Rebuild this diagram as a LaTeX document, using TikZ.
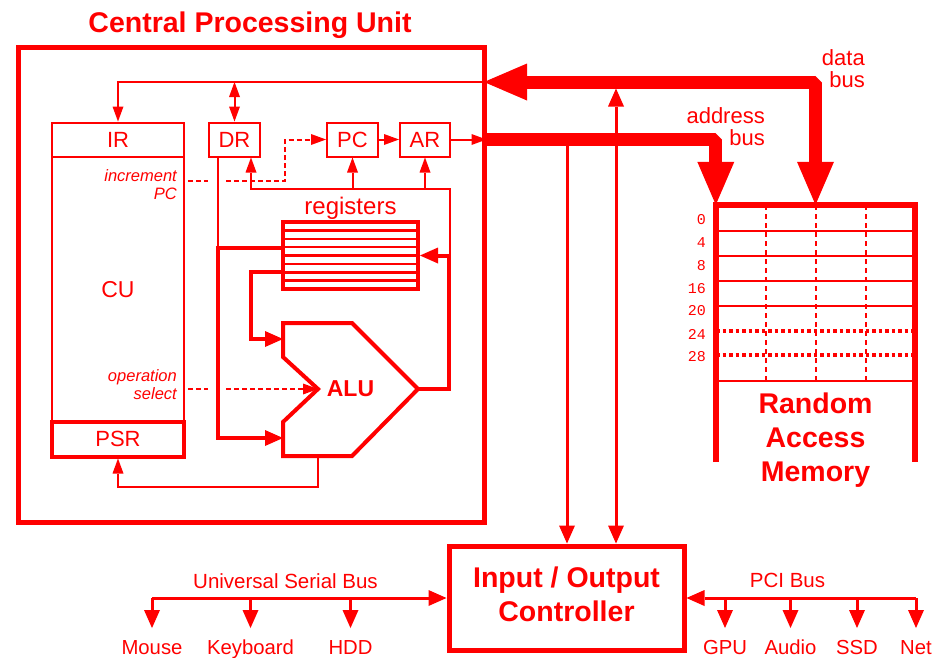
\documentclass[tikz,border=0pt]{standalone}
\usepackage{fontspec}
\setmainfont{Liberation Sans}
\setmonofont{Liberation Mono}
\usetikzlibrary{arrows.meta}
\begin{document}
\begin{tikzpicture}[x=1pt,y=-1pt,color=red,
  boxlbl/.style={draw, line width=2pt, inner sep=0pt, font=\fontsize{22}{26}\selectfont},
  thinln/.style={draw, line width=2pt},
  tarr/.style={-{Triangle[length=15pt,width=11pt,line width=0pt]}},
  tarrs/.style={{Triangle[length=15pt,width=11pt,line width=0pt]}-{Triangle[length=15pt,width=11pt,line width=0pt]}},
  medln/.style={draw, line width=3pt},
  marr/.style={-{Triangle[length=18pt,width=16pt,line width=0pt]}},
  marrs/.style={{Triangle[length=18pt,width=16pt,line width=0pt]}-{Triangle[length=18pt,width=16pt,line width=0pt]}},
  thickln/.style={draw, line width=4pt},
  busln/.style={draw, line width=13pt, line join=bevel},
  barr/.style={-{Triangle[length=43pt,width=37pt,line width=0pt]}},
  barrs/.style={{Triangle[length=43pt,width=37pt,line width=0pt]}-{Triangle[length=43pt,width=37pt,line width=0pt]}},
  ctrlln/.style={draw, line width=2pt, dash pattern=on 5pt off 3pt},
  dev/.style={anchor=north, inner xsep=0pt, inner ysep=12pt, font=\fontsize{20.3}{24}\selectfont},
  ital/.style={align=right, anchor=north east, inner sep=0pt, font=\itshape\fontsize{16.5}{18}\selectfont},
  bigbold/.style={font=\bfseries\fontsize{28.5}{34}\selectfont, align=center, inner sep=0pt},
  buslbl/.style={align=right, anchor=north east, inner sep=0pt, font=\fontsize{22}{22}\selectfont},
]
\useasboundingbox (0,0) rectangle (932,657);

% ---------------- CPU ----------------
\node[draw, line width=5pt, minimum width=466pt, minimum height=475pt, inner sep=0pt] (cpu) at (251,284.5) {};
\node[font=\bfseries\fontsize{28.5}{32}\selectfont, anchor=base, inner sep=0pt] (title) at (250,32) {Central Processing Unit};

\node[boxlbl, minimum width=132pt, minimum height=334pt, font=\fontsize{23}{26}\selectfont] (cu) at (118,289.5) {CU};
\node[boxlbl, fill=white, minimum width=132pt, minimum height=34pt] (ir) at (118,139.5) {IR};
\node[boxlbl, fill=white, line width=4pt, minimum width=132pt, minimum height=35pt] (psr) at (118,439) {PSR};
\node[boxlbl, minimum width=51pt, minimum height=34pt] (dr) at (234.5,139.5) {DR};
\node[boxlbl, minimum width=51pt, minimum height=34pt] (pc) at (352.5,139.5) {PC};
\node[boxlbl, minimum width=50pt, minimum height=34pt] (ar) at (425,139.5) {AR};

\node[ital] (incpc) at (177,169.2) {increment\\PC};
\node[ital] (opsel) at (177,369.2) {operation\\select};

% registers
\node[draw, line width=4pt, minimum width=135pt, minimum height=67pt, inner sep=0pt] (reg) at (350.5,255.5) {};
\foreach \k in {1,...,7} \draw[line width=2.5pt] (283,222+8.375*\k) -- (418,222+8.375*\k);
\node[anchor=base, inner sep=0pt, font=\fontsize{24}{26}\selectfont] (reglbl) at (350.5,214) {registers};

% ALU
\draw[line width=4pt, line join=miter] (283,323) -- (352,323) -- (418,389) -- (352,456) -- (283,456) -- (283,422) -- (318,389) -- (283,357) -- cycle;
\node[font=\bfseries\fontsize{23}{26}\selectfont, inner sep=0pt] (alu) at (350.5,389) {ALU};
\coordinate (aluin1) at (283,339);
\coordinate (aluin2) at (283,438);
\coordinate (aluop) at (318,389);
\coordinate (aluout) at (418,389);
\coordinate (alubot) at (318,456);

% internal connectors
\coordinate (dbin) at (484,82);
\coordinate (ib) at (450,189);
\coordinate (j1) at (218,248);
\coordinate (rp1) at (283,248);
\coordinate (rp2) at (283,272);

\draw[thinln, tarr] (dbin) -| (ir.north);
\draw[thinln, tarrs] (dr.north |- dbin) -- (dr.north);
\draw[thinln, tarr] (pc) -- (ar);
\draw[thinln, tarr] (ar) -- (ar -| cpu.east);
\draw[thinln, tarr] (reg.east -| ib) -- (ib) -| ([xshift=16.5pt]dr.south);
\draw[thinln, tarr] (pc.south |- ib) -- (pc.south);
\draw[thinln, tarr] (ar.south |- ib) -- (ar.south);
\draw[thinln] ([xshift=-16.5pt]dr.south) -- (j1);
\draw[thickln, marr] (rp1) -- (j1) |- (aluin2);
\draw[thickln, marr] (rp2) -- ++(-32,0) |- (aluin1);
\draw[thickln, marr] (aluout) -- ++(31,0) |- (reg.east);
\draw[thinln, tarr] (alubot) -- ++(0,31) -| (psr.south);

\draw[ctrlln] (188,181) -- (208,181);
\draw[ctrlln, tarr] (226,181) -- (285,181) |- (pc.west);
\draw[ctrlln] (188,389) -- (208,389);
\draw[ctrlln, tarr] (226,389) -- (aluop);

% ---------------- RAM ----------------
\node[minimum width=199pt, minimum height=257pt, inner sep=0pt] (ram) at (815.5,333.5) {};
\foreach \y in {231,256,281,306,381} \draw[line width=2pt] (716,\y) -- (915,\y);
\foreach \y in {331,355} \draw[line width=4pt, dash pattern=on 3.5pt off 3pt] (716,\y) -- (915,\y);
\foreach \x in {766,816,866} \draw[line width=2pt, dash pattern=on 5pt off 4pt] (\x,205) -- (\x,381);
\draw[line width=5.5pt, line join=miter] (ram.south west) -- (ram.north west) -- (ram.north east) -- (ram.south east);
\foreach \n/\y in {0/220,4/243,8/266,16/289,20/311,24/334,28/357}
  \node[anchor=east, inner sep=0pt, font=\ttfamily\fontsize{15}{18}\selectfont] (addr\n) at (706,\y) {\n};
\node[bigbold] (ramlbl) at (815.5,440.5) {Random\\Access\\Memory};

% buses
\draw[busln, barrs] (dbin) -| (ram.north);
\draw[busln, barr] (ar -| cpu.east) -| (ram.north west);
\node[buslbl] (dblbl) at (865,49.2) {data\\bus};
\node[buslbl] (ablbl) at (765,107.2) {address\\bus};

% ---------------- I/O ----------------
\node[draw, line width=5pt, minimum width=235pt, minimum height=104pt, inner sep=0pt] (io) at (566.5,598) {};
\node[bigbold] (iolbl) at (566.5,594.5) {Input / Output\\Controller};
\coordinate (abtap) at (567,139.5);
\coordinate (dbtap) at (616,88.5);
\draw[medln, marr] (abtap) -- (abtap |- io.north);
\draw[medln, marrs] (dbtap) -- (dbtap |- io.north);

\node[dev] (mouse) at (152,628) {Mouse};
\node[dev] (kbd) at (250.5,628) {Keyboard};
\node[dev] (hdd) at (350.5,628) {HDD};
\node[dev] (gpu) at (725,628) {GPU};
\node[dev] (audio) at (790.5,628) {Audio};
\node[dev] (ssd) at (857,628) {SSD};
\node[dev] (net) at (916,628) {Net};

\draw[medln, marr] (mouse.north |- io.west) -- (io.west);
\foreach \d in {mouse,kbd,hdd} \draw[medln, marr] (\d.north |- io.west) -- (\d.north);
\draw[medln, marr] (net.north |- io.east) -- (io.east);
\foreach \d in {gpu,audio,ssd,net} \draw[medln, marr] (\d.north |- io.east) -- (\d.north);

\node[anchor=base, inner sep=0pt, font=\fontsize{20.5}{24}\selectfont] (usblbl) at (285.5,588) {Universal Serial Bus};
\node[anchor=base, inner sep=0pt, font=\fontsize{20.5}{24}\selectfont] (pcilbl) at (787.5,587) {PCI Bus};
\end{tikzpicture}
\end{document}
